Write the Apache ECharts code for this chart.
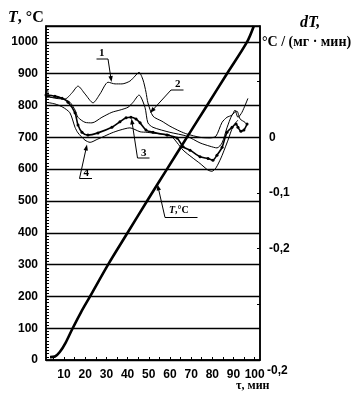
<!DOCTYPE html>
<html><head><meta charset="utf-8">
<script src="https://cdn.jsdelivr.net/npm/echarts@6.0.0/dist/echarts.min.js"></script>
<style>html,body{margin:0;padding:0;background:#fff}#c{width:361px;height:400px}</style>
</head><body><div id="c"></div>
<script>
// ---- data (τ in min) ----
const xLabelValues = [10,20,30,40,50,60,70,80,90,100];
const xTickValues = [5,10,15,20,25,30,35,40,45,50,55,60,65,70,75,80,85,90,95,100];
const rightTickValues = [0, -0.1, -0.2];
const rightTickTexts = ['0', '-0,1', '-0,2'];

// temperature T, °C (left axis)
const tempT = [[3.4,9],[5.7,11],[8.0,25],[10.8,55],[13.8,96],[18.0,150],[22.3,200],[30.8,300],
  [40.0,400],[49.2,500],[58.6,600],[68.0,700],[77.5,800],[86.9,900],[96.4,1000],[99.6,1050]];

// dT, °C/(мг·мин) (right axis)
const curve1 = [[1.5,0.080],[2.2,0.086],[2.8,0.074],[6.2,0.070],[10.5,0.069],[13.8,0.080],[16.6,0.092],[19.9,0.078],[23.7,0.062],
  [27.0,0.078],[30.8,0.099],[34.1,0.096],[37.4,0.096],[41.1,0.101],[43.5,0.110],[45.4,0.117],[47.3,0.103],[48.7,0.081],
  [49.6,0.062],[52.0,0.038],[56.2,0.029],[60.0,0.020],[64.7,0.011],[68.0,0.006],[74.2,0.000],[78.9,-0.001],[81.7,0.002],
  [84.6,0.027],[86.9,0.036],[89.3,0.040],[90.7,0.049],[92.1,0.036],[94.0,0.045],[96.8,0.070]];
const curve2 = [[1.5,0.072],[5.7,0.072],[9.1,0.070],[12.8,0.063],[15.2,0.049],[16.6,0.036],[19.9,0.027],[23.2,0.026],
  [27.9,0.036],[32.6,0.045],[36.4,0.049],[40.2,0.054],[42.6,0.063],[45.4,0.076],[48.2,0.054],[49.6,0.026],[52.0,0.018],
  [60.0,0.009],[68.0,0.002],[74.2,-0.010],[78.9,-0.016],[82.2,-0.019],[84.6,-0.010],[86.9,0.017],[89.3,0.040],
  [91.6,0.047],[93.1,0.033],[95.4,0.027],[96.4,0.022]];
const curve3 = [[1.5,0.076],[5.7,0.074],[9.1,0.070],[11.9,0.063],[15.2,0.044],[16.6,0.022],[18.5,0.009],[21.3,0.004],
  [26.0,0.008],[32.6,0.018],[36.4,0.028],[39.3,0.035],[41.6,0.036],[44.0,0.033],[45.9,0.026],[48.7,0.013],[52.0,0.009],
  [58.6,0.004],[63.3,-0.001],[66.2,-0.017],[69.5,-0.023],[74.2,-0.035],[78.0,-0.038],[80.3,-0.041],[82.2,-0.032],
  [84.6,-0.018],[86.9,0.009],[89.3,0.018],[91.2,0.024],[92.1,0.018],[93.5,0.011],[94.9,0.013],[96.4,0.024]];
const curve4 = [[1.5,0.063],[5.7,0.060],[9.5,0.054],[12.8,0.044],[15.2,0.018],[16.6,0.008],[19.9,-0.005],[22.3,-0.009],
  [26.0,-0.003],[27.9,0.000],[32.6,0.008],[36.4,0.013],[41.1,0.017],[45.9,0.010],[49.2,0.009],[55.3,0.006],[60.0,0.004],
  [66.2,-0.023],[70.4,-0.036],[74.2,-0.047],[78.0,-0.059],[79.8,-0.061],[81.7,-0.055],[84.1,-0.037],[86.0,-0.019],
  [87.4,-0.005],[89.8,0.020],[92.1,0.031]];

const SERIF = "'Liberation Serif','DejaVu Serif',serif";
const SANS = "'Liberation Sans','DejaVu Sans',sans-serif";

const chart = echarts.init(document.getElementById('c'), null, {renderer:'canvas'});

function arrow(x1,y1,x2,y2){
  const dx=x2-x1, dy=y2-y1, L=Math.hypot(dx,dy), ux=dx/L, uy=dy/L, nx=-uy, ny=ux, h=6, w=2.2;
  return [
    {type:'line', shape:{x1:x1,y1:y1,x2:x2-ux*3,y2:y2-uy*3}, style:{stroke:'#000', lineWidth:1}},
    {type:'polygon', shape:{points:[[x2,y2],[x2-ux*h+nx*w,y2-uy*h+ny*w],[x2-ux*h-nx*w,y2-uy*h-ny*w]]}, style:{fill:'#000'}}
  ];
}
function uline(x1,x2,y){return {type:'line', shape:{x1:x1,y1:y,x2:x2,y2:y}, style:{stroke:'#000', lineWidth:1}};}
function txt(x,y,t,font,rich){return {type:'text', x:x, y:y, style:{text:t, font:font, fill:'#000', align:'left', verticalAlign:'top', rich:rich}};}

const graphics = [].concat(
  [txt(8,10,'{i|T}, °C','bold 16px '+SERIF,{i:{font:'italic bold 16px '+SERIF}})],
  [txt(300,15,'dT,','italic bold 16px '+SERIF)],
  [txt(262,35,'°C / (мг · мин)','bold 14px '+SERIF)],
  [txt(236,380,'τ, мин','bold 12px '+SERIF)],
  [txt(267,365,'-0,2','bold 12px '+SANS)],
  // label 1
  [txt(99,48,'1','bold 11px '+SERIF), uline(96.5,108,59)], arrow(108,59,111.5,82),
  // label 2
  [txt(175,79,'2','bold 11px '+SERIF), uline(171,183.5,90)], arrow(171,90,150,113),
  // label 3
  [txt(141,148,'3','bold 11px '+SERIF), uline(137.5,149.5,158)], arrow(137.5,158,131.5,118.5),
  // label 4
  [txt(83.5,168,'4','bold 11px '+SERIF), uline(79.5,92,178.5)], arrow(79.5,178.5,87,144.5),
  // label T
  [txt(169,205,'{i|T},°C','bold 10px '+SERIF,{i:{font:'italic bold 10px '+SERIF}}), uline(165,197.5,217.5)], arrow(165,217.5,157.5,184.5)
);

const thin = {color:'#000', width:1};
chart.setOption({
  backgroundColor:'#fff',
  animation:false,
  grid:{left:46, right:101, top:26, bottom:40, show:true, borderColor:'#000', borderWidth:1.5},
  xAxis:{type:'value', min:1.5, max:102.5,
    axisLine:{show:true, onZero:false, lineStyle:{color:'#000', width:1.5}},
    axisTick:{show:true, inside:true, length:3, customValues:xTickValues, lineStyle:{color:'#000'}},
    axisLabel:{customValues:xLabelValues, color:'#000', fontFamily:SANS, fontWeight:'bold', fontSize:12, margin:9},
    splitLine:{show:false}},
  yAxis:[
    {type:'value', position:'left', min:0, max:1050, interval:100,
      axisLine:{show:true, lineStyle:{color:'#000', width:1.5}},
      axisTick:{show:true, inside:true, length:4, lineStyle:{color:'#000'}},
      minorTick:{show:true, splitNumber:10, length:3, lineStyle:{color:'#000'}},
      axisLabel:{color:'#000', fontFamily:SANS, fontWeight:'bold', fontSize:12, margin:8,
        formatter:v => (Math.round(v)%100===0 && v<=1000) ? String(Math.round(v)) : ''},
      splitLine:{show:true, lineStyle:{color:'#000', width:1.3}}},
    {type:'value', position:'right', min:-0.4, max:0.2, interval:0.1,
      axisLine:{show:true, lineStyle:{color:'#000', width:1.5}},
      axisTick:{show:true, inside:true, length:3, lineStyle:{color:'#000'}},
      axisLabel:{color:'#000', fontFamily:SANS, fontWeight:'bold', fontSize:12, margin:9,
        formatter:v => {const k=rightTickValues.findIndex(t=>Math.abs(t-v)<1e-6); return k>=0?rightTickTexts[k]:'';}},
      splitLine:{show:false}}
  ],
  series:[
    {type:'line', name:'T', yAxisIndex:0, data:tempT, smooth:0.3, showSymbol:false, lineStyle:{color:'#000', width:2.6}, z:5},
    {type:'line', name:'1', yAxisIndex:1, data:curve1, smooth:0.25, showSymbol:false, lineStyle:thin},
    {type:'line', name:'2', yAxisIndex:1, data:curve2, smooth:0.25, showSymbol:false, lineStyle:thin},
    {type:'line', name:'3', yAxisIndex:1, data:curve3, smooth:0.25, showSymbol:true, showAllSymbol:true, symbol:'circle', symbolSize:3,
      itemStyle:{color:'#000'}, lineStyle:{color:'#000', width:1.6}},
    {type:'line', name:'4', yAxisIndex:1, data:curve4, smooth:0.25, showSymbol:false, lineStyle:thin}
  ],
  graphic:graphics
});
</script></body></html>
